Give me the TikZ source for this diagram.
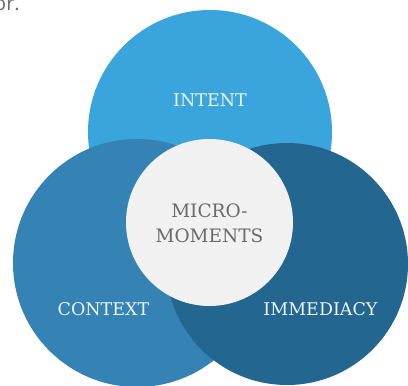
\documentclass[tikz,border=0pt]{standalone}
\usepackage{fontspec}
\setmainfont{DejaVu Serif}
\newfontfamily\bodysans{Open Sans}
\definecolor{intentblue}{HTML}{3AA4DC}
\definecolor{contextblue}{HTML}{3582B4}
\definecolor{immediacyblue}{HTML}{23668F}
\definecolor{microgray}{HTML}{F1F1F1}
\definecolor{microtext}{HTML}{6A6A6A}
\definecolor{labeltext}{HTML}{EEF5FA}

\begin{document}
\begin{tikzpicture}[x=1pt, y=-1pt]
  \tikzstyle{every node}=[font=\fontsize{17.5}{21}\selectfont]
  \tikzstyle{bubble}=[circle, inner sep=0pt, draw=none]
  \tikzstyle{bubbletext}=[text=labeltext, inner sep=0pt]
  \useasboundingbox (0,0) rectangle (408,386);
  \clip (0,0) rectangle (408,386);
  % cut-off line of the text above
  \node[anchor=base west, text=microtext, inner sep=0pt,
    font=\bodysans\fontsize{20}{24}\selectfont] (prevtext) at (-6,10) {or.};
  %
  \node[bubble, fill=intentblue, minimum size=244pt] (intent) at (210,132) {};
  \node[bubble, fill=contextblue, minimum size=248pt] (context) at (137,263) {};
  \node[bubble, fill=immediacyblue, minimum size=242pt] (immediacy) at (287,264) {};
  \node[bubble, fill=microgray, minimum size=167pt] (micro) at (209.5,222.5) {};
  %
  \node[bubbletext] (intentlbl) at (210,100) {INTENT};
  \node[bubbletext] (contextlbl) at (103.5,309.5) {CONTEXT};
  \node[bubbletext] (immediacylbl) at (320.5,309.5) {IMMEDIACY};
  \node[text=microtext, align=center, inner sep=0pt,
    font=\fontsize{18.5}{25}\selectfont] (microlbl)
    at (209.5,223) {MICRO-\\MOMENTS};
\end{tikzpicture}
\end{document}
